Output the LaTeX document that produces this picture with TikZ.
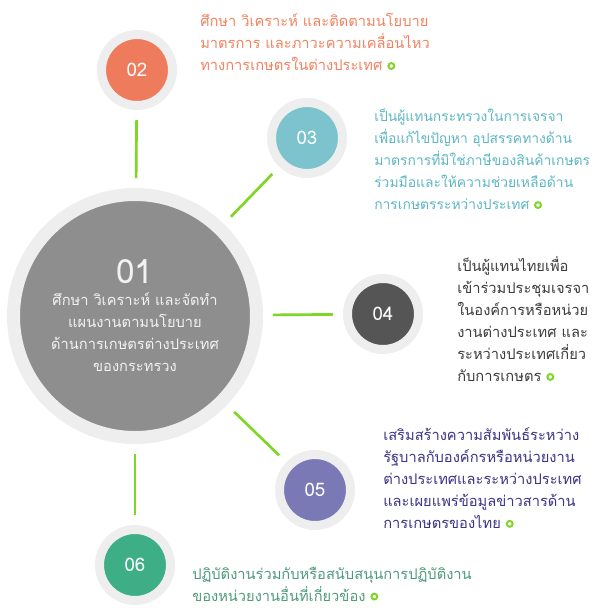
\documentclass[tikz,border=0pt]{standalone}
\usepackage{fontspec}
\newfontfamily\thaifont[Script=Thai]{Loma}
\usepackage{xcolor}
\usepackage{tikz}
\usetikzlibrary{positioning}

\definecolor{ringgray}{HTML}{EEEEEE}
\definecolor{hubgray}{HTML}{8E8E8E}
\definecolor{hubtext}{HTML}{F2F2F2}
\definecolor{linkgreen}{HTML}{7FD625}
\definecolor{c02}{HTML}{EE7B5C}
\definecolor{c03}{HTML}{7CC3CE}
\definecolor{c04}{HTML}{555555}
\definecolor{c05}{HTML}{7B79B5}
\definecolor{c06}{HTML}{3DAE85}
\definecolor{t02}{HTML}{F2825F}
\definecolor{t03}{HTML}{5DB6C4}
\definecolor{t04}{HTML}{3C3C3C}
\definecolor{t05}{HTML}{3B3486}
\definecolor{t06}{HTML}{4F9A7B}

\newcommand\bul{\tikz[baseline=-0.6ex]\draw[linkgreen,line width=1.5pt] (0,0) circle[radius=2.2pt];}

\begin{document}
\begin{tikzpicture}[x=0.75pt,y=-0.75pt,
	bubble/.style={circle,inner sep=0pt,draw=ringgray,line width=6.75pt,minimum size=53.25pt,text=white,font=\thaifont\fontsize{14}{14}\selectfont},
	hub/.style={bubble,line width=9.75pt,minimum size=182.25pt,fill=hubgray,text=hubtext,align=center,font=\thaifont\fontsize{11}{16.5}\selectfont},
	info/.style={anchor=west,align=left,inner sep=0pt,font=\thaifont\fontsize{11}{16.5}\selectfont},
	link/.style={draw=linkgreen,line width=2pt,shorten <=7.5pt,shorten >=7.5pt}]
	\useasboundingbox (0,0) rectangle (601,608);
	%
	\node[hub] (r01) at (135,316) {{\fontsize{25}{26}\selectfont 01}\\ศึกษา วิเคราะห์ และจัดทำ\\แผนงานตามนโยบาย\\ด้านการเกษตรต่างประเทศ\\ของกระทรวง};
	\node[bubble,fill=c02] (r02) at (137,70) {02};
	\node[bubble,fill=c03] (r03) at (307,138) {03};
	\node[bubble,fill=c04] (r04) at (383,314) {04};
	\node[bubble,fill=c05] (r05) at (315,490) {05};
	\node[bubble,fill=c06] (r06) at (135,565) {06};
	%
	\draw[link] (r02) -- (r01);
	\draw[link] (r03) -- (r01);
	\draw[link] (r04) -- (r01);
	\draw[link] (r05) -- (r01);
	\draw[link] (r06) -- (r01);
	%
	\node[info,text=t02] (t02) at (200,42) {ศึกษา วิเคราะห์ และติดตามนโยบาย\\มาตรการ และภาวะความเคลื่อนไหว\\ทางการเกษตรในต่างประเทศ \bul};
	\node[info,text=t03,font=\thaifont\fontsize{10.4}{16.5}\selectfont] (t03) at (374,159) {เป็นผู้แทนกระทรวงในการเจรจา\\เพื่อแก้ไขปัญหา อุปสรรคทางด้าน\\มาตรการที่มิใช่ภาษีของสินค้าเกษตร\\ร่วมมือและให้ความช่วยเหลือด้าน\\การเกษตรระหว่างประเทศ \bul};
	\node[info,text=t04] (t04) at (457,319) {เป็นผู้แทนไทยเพื่อ\\เข้าร่วมประชุมเจรจา\\ในองค์การหรือหน่วย\\งานต่างประเทศ และ\\ระหว่างประเทศเกี่ยว\\กับการเกษตร \bul};
	\node[info,text=t05] (t05) at (383,478) {เสริมสร้างความสัมพันธ์ระหว่าง\\รัฐบาลกับองค์กรหรือหน่วยงาน\\ต่างประเทศและระหว่างประเทศ\\และเผยแพร่ข้อมูลข่าวสารด้าน\\การเกษตรของไทย \bul};
	\node[info,text=t06] (t06) at (192,584) {ปฏิบัติงานร่วมกับหรือสนับสนุนการปฏิบัติงาน\\ของหน่วยงานอื่นที่เกี่ยวข้อง \bul};
\end{tikzpicture}
\end{document}
